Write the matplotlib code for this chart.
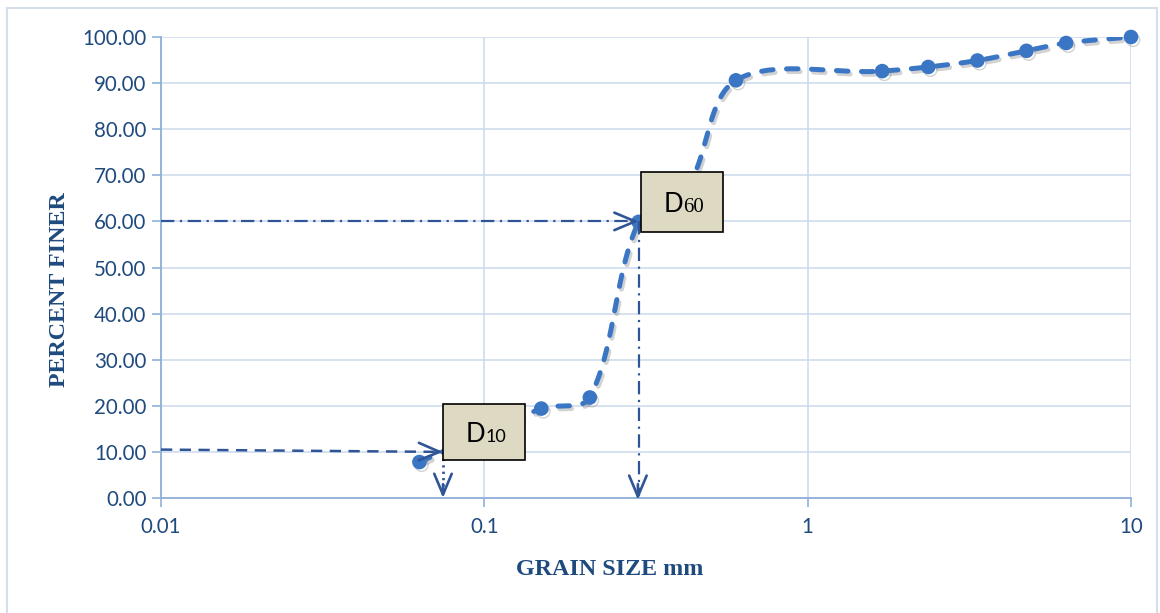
import numpy as np
import matplotlib
matplotlib.use("Agg")
import matplotlib.pyplot as plt
from matplotlib.patches import Rectangle
from matplotlib.ticker import FixedLocator, NullLocator, FixedFormatter
import matplotlib.patheffects as pe
import matplotlib.transforms as mtransforms

# ---------------- data ----------------
grain_size = [0.063, 0.15, 0.212, 0.3, 0.425, 0.6, 1.7, 2.36, 3.35, 4.75, 6.3, 10.0]
percent_finer = [7.8, 19.4, 21.8, 59.9, 67.5, 90.6, 92.6, 93.5, 94.9, 97.0, 98.7, 100.0]

x_ticks = [0.01, 0.1, 1, 10]
x_tick_labels = ["0.01", "0.1", "1", "10"]
y_ticks = [0, 10, 20, 30, 40, 50, 60, 70, 80, 90, 100]
y_tick_labels = ["0.00", "10.00", "20.00", "30.00", "40.00", "50.00",
                 "60.00", "70.00", "80.00", "90.00", "100.00"]

d10_size, d10_pct, d10_start_pct = 0.0745, 10.0, 10.5
d60_size, d60_pct = 0.3, 60.0
# label boxes: (x0, x1, y0, y1) in data units
d10_box = (0.0745, 0.134, 8.2, 20.4)
d60_box = (0.3055, 0.547, 57.7, 70.7)

# ---------------- style ----------------
line_color = "#3a76c4"
arrow_color = "#2f5597"
text_color = "#1f4a7e"
spine_color = "#8fb0d9"
grid_color = "#cbdaee"
box_face = "#ddd9c3"

W, H = 1160, 613
fig = plt.figure(figsize=(W / 100, H / 100), dpi=100)
ax = fig.add_axes([161 / W, 1 - 498 / H, (1131 - 161) / W, (498 - 37) / H])
ax.set_xscale("log")
ax.set_xlim(0.01, 10)
ax.set_ylim(0, 100)

ax.xaxis.set_major_locator(FixedLocator(x_ticks))
ax.xaxis.set_major_formatter(FixedFormatter(x_tick_labels))
ax.xaxis.set_minor_locator(NullLocator())
ax.yaxis.set_major_locator(FixedLocator(y_ticks))
ax.yaxis.set_major_formatter(FixedFormatter(y_tick_labels))

for s in ["top", "right"]:
    ax.spines[s].set_visible(False)
for s in ["left", "bottom"]:
    ax.spines[s].set_color(spine_color)
    ax.spines[s].set_linewidth(1.3)
ax.grid(True, color=grid_color, lw=1.1, zorder=0)
ax.set_axisbelow(True)
ax.tick_params(axis="y", direction="out", length=6.5, width=1.2, color=spine_color,
               pad=4, labelsize=14.8, labelcolor=text_color)
ax.tick_params(axis="x", direction="out", length=6.5, width=1.2, color=spine_color,
               pad=7, labelsize=14.8, labelcolor=text_color)
for lab in ax.get_xticklabels() + ax.get_yticklabels():
    lab.set_fontfamily("Lato")

ax.set_ylabel("PERCENT FINER", fontfamily="Liberation Serif", fontweight="bold",
              fontsize=17.3, color=text_color)
ax.set_xlabel("GRAIN SIZE mm", fontfamily="Liberation Serif", fontweight="bold",
              fontsize=17.3, color=text_color)
ax.yaxis.set_label_coords(-0.105, 0.451)
ax.xaxis.set_label_coords(0.463, -0.156)
ax.xaxis.label.set_va("center")
ax.yaxis.label.set_va("center")

# ---------------- smoothed curve (Excel-like Bezier in display space) -------------
def smooth(ax, xs, ys, n=40):
    P = ax.transData.transform(np.column_stack([xs, ys]))
    P = np.vstack([P[0], P, P[-1]])
    out = []
    t = np.linspace(0, 1, n)[:, None]
    for i in range(1, len(P) - 2):
        p0, p1, p2, p3 = P[i - 1], P[i], P[i + 1], P[i + 2]
        d01 = np.hypot(*(p1 - p0)); d12 = np.hypot(*(p2 - p1)); d23 = np.hypot(*(p3 - p2))
        f1 = d12 / (d01 + d12) if d01 + d12 > 0 else 0.5
        f2 = d12 / (d12 + d23) if d12 + d23 > 0 else 0.5
        c1 = p1 + (p2 - p0) * f1 / 3
        c2 = p2 - (p3 - p1) * f2 / 3
        seg = (1 - t) ** 3 * p1 + 3 * (1 - t) ** 2 * t * c1 + 3 * (1 - t) * t ** 2 * c2 + t ** 3 * p2
        out.append(seg if i == 1 else seg[1:])
    D = np.vstack(out)
    return ax.transData.inverted().transform(D)

curve = smooth(ax, grain_size, percent_finer)
shadow = [pe.SimpleLineShadow(offset=(1.5, -2), shadow_color="gray", alpha=0.35), pe.Normal()]
ln, = ax.plot(curve[:, 0], curve[:, 1], color=line_color, lw=3.6, zorder=3,
              dash_capstyle="round", solid_capstyle="round")
ln.set_dashes([2.3, 2.7])
ln.set_path_effects(shadow)
ax.plot(grain_size, percent_finer, ls="none", marker="o", ms=9.5, color=line_color,
        zorder=3, path_effects=shadow, clip_on=False)

# ---------------- D10 / D60 guides ----------------
head = "->,head_length=1.0,head_width=0.42"
aprops = dict(arrowstyle=head, color=arrow_color, lw=1.9, shrinkA=0, shrinkB=0,
              mutation_scale=15)

l1, = ax.plot([0.01, d10_size], [d10_start_pct, d10_pct], color=arrow_color, lw=1.8, zorder=4)
l1.set_dashes([4.5, 3])
ax.annotate("", xy=(d10_size, d10_pct), xytext=(d10_size / 1.05, d10_pct + 0.02),
            arrowprops=aprops, zorder=4, annotation_clip=False)
l2, = ax.plot([d10_size, d10_size], [d10_pct, 0.4], color=arrow_color, lw=2.0, zorder=4)
l2.set_dashes([0.8, 1.5])
ax.annotate("", xy=(d10_size, 0.0), xytext=(d10_size, 3),
            arrowprops=aprops, zorder=4, annotation_clip=False)

l3, = ax.plot([0.01, d60_size], [d60_pct, d60_pct], color=arrow_color, lw=1.6, zorder=4)
l3.set_dashes([6, 2.5, 1, 2.5])
ax.annotate("", xy=(d60_size, d60_pct), xytext=(d60_size / 1.05, d60_pct),
            arrowprops=aprops, zorder=4, annotation_clip=False)
l4, = ax.plot([d60_size, d60_size], [d60_pct, 0.4], color=arrow_color, lw=1.6, zorder=4)
l4.set_dashes([6, 2.5, 1, 2.5])
ax.annotate("", xy=(d60_size * 0.995, -0.4), xytext=(d60_size * 0.995, 3),
            arrowprops=aprops, zorder=4, annotation_clip=False)

# ---------------- label boxes ----------------
def label_box(box, sub, subfamily, subsize):
    x0, x1, y0, y1 = box
    ax.add_patch(Rectangle((x0, y0), x1 - x0, y1 - y0, facecolor=box_face,
                           edgecolor="black", lw=1.2, zorder=5))
    xc = np.sqrt(x0 * x1)
    yc = (y0 + y1) / 2
    base = mtransforms.offset_copy(ax.transData, fig=fig, x=1, y=-10, units="dots")
    ax.text(xc, yc, "D", transform=base, ha="right", va="baseline", fontsize=18.5,
            fontfamily="Lato", color="black", zorder=6)
    base2 = mtransforms.offset_copy(ax.transData, fig=fig, x=1.5, y=-10, units="dots")
    ax.text(xc, yc, sub, transform=base2, ha="left", va="baseline", fontsize=subsize,
            fontfamily=subfamily, color="black", zorder=6)

label_box(d10_box, "10", "Lato", 13)
label_box(d60_box, "60", "Liberation Serif", 15)

# figure border
fig.patches.append(Rectangle((7 / W, -0.02), (1157 - 7) / W, (H - 8) / H + 0.02,
                             transform=fig.transFigure, fill=False,
                             edgecolor="#d5dfec", lw=1.5))

fig.savefig("out.png", dpi=100)
